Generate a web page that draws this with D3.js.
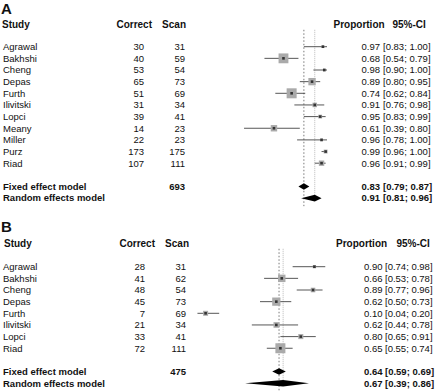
<!doctype html>
<html lang="en">
<head>
<meta charset="utf-8">
<script src="https://cdnjs.cloudflare.com/ajax/libs/d3/7.8.5/d3.min.js"></script>
<style>
  body { margin: 0; background: #fff; }
  svg { display: block; font-family: 'Liberation Sans', Arial, Helvetica, sans-serif; }
  text { fill: #111; }
  .bold { font-weight: bold; }
</style>
</head>
<body>
<script>

// Panel A data
const studiesA = ["Agrawal", "Bakhshi", "Cheng", "Depas", "Furth", "Ilivitski", "Lopci", "Meany", "Miller", "Purz", "Riad"];
const correctA = [30, 40, 53, 65, 51, 31, 39, 14, 22, 173, 107];
const scanA = [31, 59, 54, 73, 69, 34, 41, 23, 23, 175, 111];
const propA = [0.97, 0.68, 0.98, 0.89, 0.74, 0.91, 0.95, 0.61, 0.96, 0.99, 0.96];
const lowA = [0.83, 0.54, 0.90, 0.80, 0.62, 0.76, 0.83, 0.39, 0.78, 0.96, 0.91];
const highA = [1.00, 0.79, 1.00, 0.95, 0.84, 0.98, 0.99, 0.80, 1.00, 1.00, 0.99];
const totalA = 693;
const fixedA = [0.83, 0.79, 0.87];
const randomA = [0.91, 0.81, 0.96];

// Panel B data
const studiesB = ["Agrawal", "Bakhshi", "Cheng", "Depas", "Furth", "Ilivitski", "Lopci", "Riad"];
const correctB = [28, 41, 48, 45, 7, 21, 33, 72];
const scanB = [31, 62, 54, 73, 69, 34, 41, 111];
const propB = [0.90, 0.66, 0.89, 0.62, 0.10, 0.62, 0.80, 0.65];
const lowB = [0.74, 0.53, 0.77, 0.50, 0.04, 0.44, 0.65, 0.55];
const highB = [0.98, 0.78, 0.96, 0.73, 0.20, 0.78, 0.91, 0.74];
const totalB = 475;
const fixedB = [0.64, 0.59, 0.69];
const randomB = [0.67, 0.39, 0.86];

const w = 440, h = 391;
const rowH = 11.65;

const svg = d3.select("body").append("svg")
  .attr("width", w)
  .attr("height", h);

svg.append("rect").attr("width", w).attr("height", h).attr("fill", "#fff");

const fmt = d3.format(".2f");

function drawPanel(p) {
  const g = svg.append("g");
  const n = p.studies.length;
  const rows = d3.range(n).map(i => p.firstRow + i * rowH);
  const yFixed = p.firstRow + (n + 1) * rowH;
  const yRandom = p.firstRow + (n + 2) * rowH;

  const x = d3.scaleLinear().domain([0, 1]).range(p.xRange);

  // box size from the inverse variance (logit) weight of each study
  const weights = p.correct.map((c, i) => c * (p.scan[i] - c) / p.scan[i]);
  const boxSize = d3.scaleSqrt().domain([0, d3.max(weights)]).range([0, 10]);

  // panel letter
  g.append("text").attr("class", "bold")
    .attr("x", 1).attr("y", p.letterY).attr("dy", "0.35em")
    .style("font-size", "15px")
    .text(p.letter);

  // column headers
  const hdr = g.append("g").attr("class", "bold").style("font-size", "10px");
  hdr.append("text").attr("x", p.studyX).attr("y", p.headerY).attr("dy", "0.35em").text("Study");
  hdr.append("text").attr("x", p.correctHdr).attr("y", p.headerY).attr("dy", "0.35em")
    .attr("text-anchor", "end").text("Correct");
  hdr.append("text").attr("x", p.scanHdr).attr("y", p.headerY).attr("dy", "0.35em")
    .attr("text-anchor", "end").text("Scan");
  hdr.append("text").attr("x", p.propHdr).attr("y", p.headerY).attr("dy", "0.35em").text("Proportion");
  hdr.append("text").attr("x", p.ciHdr).attr("y", p.headerY).attr("dy", "0.35em").text("95%-CI");

  // study rows
  const rowG = g.append("g").style("font-size", "9.5px");
  rowG.selectAll(".name").data(p.studies).enter().append("text")
    .attr("x", 3).attr("y", (d, i) => rows[i]).attr("dy", "0.35em").text(d => d);
  rowG.selectAll(".cor").data(p.correct).enter().append("text")
    .attr("x", p.correctX).attr("y", (d, i) => rows[i]).attr("dy", "0.35em")
    .attr("text-anchor", "end").text(d => d);
  rowG.selectAll(".scan").data(p.scan).enter().append("text")
    .attr("x", p.scanX).attr("y", (d, i) => rows[i]).attr("dy", "0.35em")
    .attr("text-anchor", "end").text(d => d);
  rowG.selectAll(".prop").data(p.prop).enter().append("text")
    .attr("x", p.propX).attr("y", (d, i) => rows[i]).attr("dy", "0.35em")
    .attr("text-anchor", "end").text(d => fmt(d));
  rowG.selectAll(".ci").data(p.low).enter().append("text")
    .attr("x", p.ciX).attr("y", (d, i) => rows[i]).attr("dy", "0.35em")
    .text((d, i) => "[" + fmt(d) + "; " + fmt(p.high[i]) + "]");

  // model rows
  const modG = g.append("g").attr("class", "bold").style("font-size", "9.5px");
  const models = [
    { label: "Fixed effect model", y: yFixed, est: p.fixed, total: p.total },
    { label: "Random effects model", y: yRandom, est: p.random, total: null }
  ];
  models.forEach(m => {
    modG.append("text").attr("x", 3).attr("y", m.y).attr("dy", "0.35em").text(m.label);
    if (m.total !== null) {
      modG.append("text").attr("x", p.scanX).attr("y", m.y).attr("dy", "0.35em")
        .attr("text-anchor", "end").text(m.total);
    }
    modG.append("text").attr("x", p.propX).attr("y", m.y).attr("dy", "0.35em")
      .attr("text-anchor", "end").text(fmt(m.est[0]));
    modG.append("text").attr("x", p.ciX).attr("y", m.y).attr("dy", "0.35em")
      .text("[" + fmt(m.est[1]) + "; " + fmt(m.est[2]) + "]");
  });

  // reference lines
  const top = p.headerY + 5.5;
  g.append("line")
    .attr("x1", x(p.fixed[0])).attr("x2", x(p.fixed[0]))
    .attr("y1", top).attr("y2", yRandom + 8)
    .attr("stroke", "#555").attr("stroke-width", 0.8).attr("stroke-dasharray", "1.5,2");
  g.append("line")
    .attr("x1", x(p.random[0])).attr("x2", x(p.random[0]))
    .attr("y1", top).attr("y2", yRandom - 3.5)
    .attr("stroke", "#aaa").attr("stroke-width", 0.8).attr("stroke-dasharray", "1,1");

  // confidence intervals
  g.selectAll(".ciline").data(p.low).enter().append("line")
    .attr("x1", d => x(d))
    .attr("x2", (d, i) => x(p.high[i]))
    .attr("y1", (d, i) => rows[i]).attr("y2", (d, i) => rows[i])
    .attr("stroke", "#444").attr("stroke-width", 0.9);

  // weight squares
  g.selectAll(".box").data(p.prop).enter().append("rect")
    .attr("x", (d, i) => x(d) - boxSize(weights[i]) / 2)
    .attr("y", (d, i) => rows[i] - boxSize(weights[i]) / 2)
    .attr("width", (d, i) => boxSize(weights[i]))
    .attr("height", (d, i) => boxSize(weights[i]))
    .attr("fill", "#aaa");

  // point estimates
  g.selectAll(".pt").data(p.prop).enter().append("rect")
    .attr("x", d => x(d) - 1.3)
    .attr("y", (d, i) => rows[i] - 1.3)
    .attr("width", 2.6).attr("height", 2.6)
    .attr("fill", "#333");

  // diamonds
  models.forEach(m => {
    const hh = 3.3;
    const pts = [
      [x(m.est[1]), m.y], [x(m.est[0]), m.y - hh],
      [x(m.est[2]), m.y], [x(m.est[0]), m.y + hh]
    ];
    g.append("path")
      .attr("d", d3.line()(pts) + "Z")
      .attr("fill", "#000");
  });
}

drawPanel({
  letter: "A", letterY: 8.5, headerY: 24.3, firstRow: 46.7,
  studies: studiesA, correct: correctA, scan: scanA,
  prop: propA, low: lowA, high: highA,
  total: totalA, fixed: fixedA, random: randomA,
  xRange: [191, 327],
  studyX: 2, correctHdr: 152, scanHdr: 186, propHdr: 333.5, ciHdr: 392.5,
  correctX: 144, scanX: 185, propX: 380, ciX: 383
});

drawPanel({
  letter: "B", letterY: 226.5, headerY: 243.3, firstRow: 266.7,
  studies: studiesB, correct: correctB, scan: scanB,
  prop: propB, low: lowB, high: highB,
  total: totalB, fixed: fixedB, random: randomB,
  xRange: [192, 328],
  studyX: 4, correctHdr: 155, scanHdr: 189, propHdr: 336, ciHdr: 396.5,
  correctX: 145, scanX: 186, propX: 382.5, ciX: 385
});

</script>
</body>
</html>
